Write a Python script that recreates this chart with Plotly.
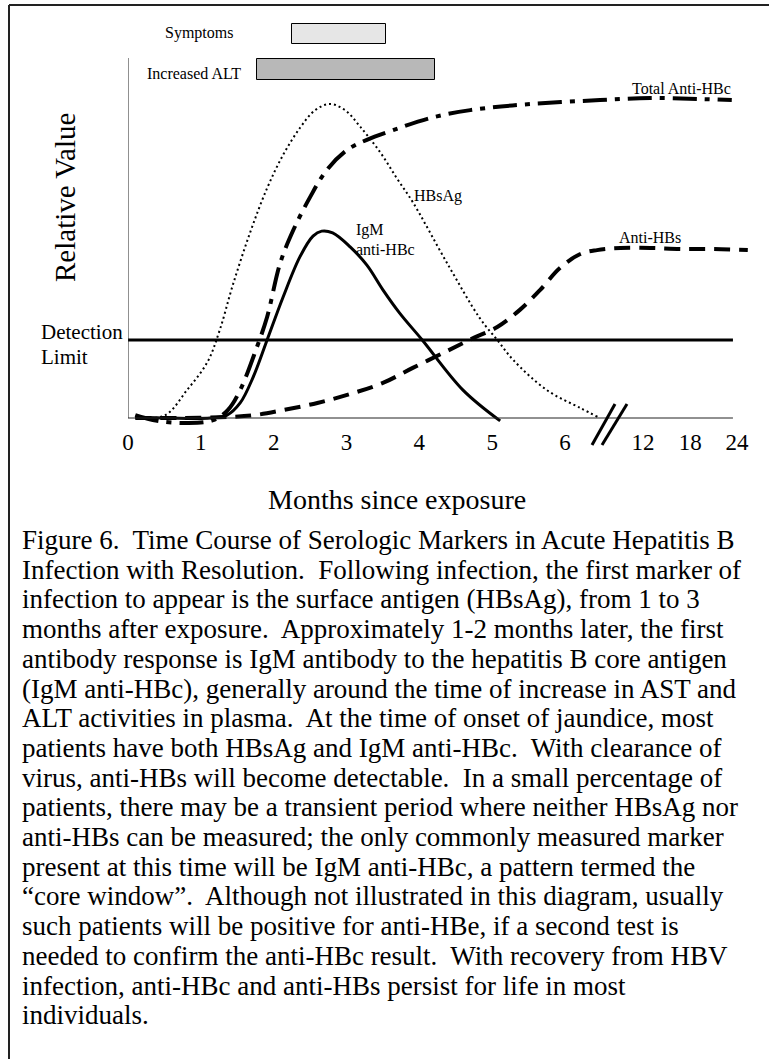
import plotly.graph_objects as go

# ---------------- data (x in display-months, y in relative value units) -------------
hbsag_x = [0.10, 0.51, 0.81, 1.09, 1.26, 1.44, 1.68, 1.91, 2.13, 2.36, 2.57, 2.77, 2.98,
           3.19, 3.46, 3.69, 3.91, 4.38, 4.83, 5.07, 5.29, 5.75, 6.21, 6.45]
hbsag_y = [0.0, 0.8, 7.8, 15.6, 24.6, 37.2, 52.0, 64.2, 73.5, 81.0, 86.0, 87.7, 86.0,
           81.3, 74.3, 67.0, 60.3, 43.3, 27.9, 21.8, 16.2, 7.8, 2.8, 0.3]

igm_x = [0.10, 0.58, 1.13, 1.36, 1.54, 1.72, 1.91, 2.13, 2.36, 2.54, 2.66, 2.81, 3.05,
         3.28, 3.50, 3.73, 4.04, 4.60, 5.11]
igm_y = [0.3, 0.0, 0.0, 0.8, 4.2, 11.5, 21.8, 33.8, 45.0, 50.8, 52.2, 51.7, 47.8,
         42.7, 35.8, 29.3, 21.8, 7.8, -0.8]

total_x = [0.10, 0.40, 0.81, 1.17, 1.37, 1.54, 1.77, 1.91, 2.09, 2.27, 2.50, 2.73, 3.01,
           3.28, 3.64, 4.15, 4.70, 5.52, 6.48, 7.17, 7.85, 8.29]
total_y = [0.8, -0.8, -1.4, -0.6, 2.2, 7.8, 19.8, 28.2, 43.3, 52.5, 61.7, 69.3, 74.9,
           77.7, 80.4, 83.8, 86.0, 87.7, 88.8, 89.4, 89.1, 88.8]

antihbs_x = [0.10, 0.71, 1.40, 1.74, 2.13, 2.60, 3.05, 3.50, 3.91, 4.38, 4.74, 5.07, 5.38,
             5.66, 5.93, 6.21, 6.44, 6.76, 7.17, 7.58, 8.03, 8.51]
antihbs_y = [0.0, 0.0, 0.3, 0.8, 2.2, 4.2, 6.7, 9.8, 14.0, 18.7, 22.3, 25.4, 30.2,
             35.8, 41.9, 45.8, 46.9, 47.5, 47.5, 47.2, 47.2, 46.9]

detection_limit = 21.8
axis_end = 8.306
value_top = 100.56

period_names = ["Symptoms", "Increased ALT"]
period_start = [2.25, 1.77]
period_end = [3.54, 4.21]

tick_vals = [0, 1, 2, 3, 4, 5, 6, 7.07, 7.72, 8.36]
tick_text = ["0", "1", "2", "3", "4", "5", "6", "12", "18", "24"]

caption_lines = [
    "Figure 6.  Time Course of Serologic Markers in Acute Hepatitis B",
    "Infection with Resolution.  Following infection, the first marker of",
    "infection to appear is the surface antigen (HBsAg), from 1 to 3",
    "months after exposure.  Approximately 1-2 months later, the first",
    "antibody response is IgM antibody to the hepatitis B core antigen",
    "(IgM anti-HBc), generally around the time of increase in AST and",
    "ALT activities in plasma.  At the time of onset of jaundice, most",
    "patients have both HBsAg and IgM anti-HBc.  With clearance of",
    "virus, anti-HBs will become detectable.  In a small percentage of",
    "patients, there may be a transient period where neither HBsAg nor",
    "anti-HBs can be measured; the only commonly measured marker",
    "present at this time will be IgM anti-HBc, a pattern termed the",
    "\u201ccore window\u201d.  Although not illustrated in this diagram, usually",
    "such patients will be positive for anti-HBe, if a second test is",
    "needed to confirm the anti-HBc result.  With recovery from HBV",
    "infection, anti-HBc and anti-HBs persist for life in most",
    "individuals.",
]

# ---------------- layout geometry (pixels) ----------------
W, H = 769, 1059
PL, PR, PT, PB = 128, 758, 20, 426
FONT = "Liberation Serif"


def px(x):
    return (x - PL) / (PR - PL)


def py(y):
    return (PB - y) / (PB - PT)


fig = go.Figure()

# period bars (symptoms / ALT)
fig.add_trace(go.Bar(
    orientation="h",
    y=[107.3, 97.35],
    x=[e - s for s, e in zip(period_start, period_end)],
    base=period_start,
    width=[5.6, 5.9],
    marker=dict(color=["#e6e6e6", "#b8b8b8"], line=dict(color="black", width=1)),
    showlegend=False, hoverinfo="skip",
))

# detection limit
fig.add_trace(go.Scatter(x=[0, axis_end], y=[detection_limit, detection_limit], mode="lines",
                         line=dict(color="black", width=3), showlegend=False))

fig.add_trace(go.Scatter(x=hbsag_x, y=hbsag_y, mode="lines", line_shape="spline",
                         line=dict(color="black", width=2, dash="2px,3px"), showlegend=False))
fig.add_trace(go.Scatter(x=antihbs_x, y=antihbs_y, mode="lines", line_shape="spline",
                         line=dict(color="black", width=4, dash="16px,9px"), showlegend=False))
fig.add_trace(go.Scatter(x=total_x, y=total_y, mode="lines", line_shape="spline",
                         line=dict(color="black", width=4, dash="24px,8px,5px,8px"), showlegend=False))
fig.add_trace(go.Scatter(x=igm_x, y=igm_y, mode="lines", line_shape="spline",
                         line=dict(color="black", width=3), showlegend=False))

shapes = [
    # axes
    dict(type="line", x0=0, x1=0, y0=0, y1=value_top, xref="x", yref="y",
         line=dict(color="#222", width=1)),
    dict(type="line", x0=0, x1=axis_end, y0=0, y1=0, xref="x", yref="y",
         line=dict(color="#222", width=1)),
    # outer frame
    dict(type="line", x0=px(9), x1=px(9), y0=py(5), y1=py(1070), xref="paper", yref="paper",
         line=dict(color="#222", width=2)),
    dict(type="line", x0=px(9), x1=px(780), y0=py(5), y1=py(5), xref="paper", yref="paper",
         line=dict(color="#222", width=2)),
    # axis break marks
    dict(type="line", x0=px(592), x1=px(615), y0=py(445), y1=py(404), xref="paper", yref="paper",
         line=dict(color="black", width=3)),
    dict(type="line", x0=px(602), x1=px(627), y0=py(445), y1=py(404), xref="paper", yref="paper",
         line=dict(color="black", width=3)),
]

ann = []


def text(t, x, y, size, xanchor="left", angle=0):
    ann.append(dict(text=t, x=px(x), y=py(y), xref="paper", yref="paper", showarrow=False,
                    xanchor=xanchor, yanchor="middle", textangle=angle,
                    font=dict(family=FONT, size=size, color="black")))


text(period_names[0], 163, 33, 16)
text(period_names[1], 145, 73, 16)
text("Total Anti-HBc", 630, 88, 16)
text("HBsAg", 412, 196, 16)
text("IgM", 354, 230, 16)
text("anti-HBc", 354, 249, 16)
text("Anti-HBs", 617, 237, 16)
text("Relative Value", 65, 198, 29, xanchor="center", angle=-90)
text("Detection", 39, 332, 21)
text("Limit", 39, 357, 21)
text("Months since exposure", 397, 500, 28, xanchor="center")
for i, line in enumerate(caption_lines):
    text(line, 20, 540 + i * 29.7, 27)

fig.update_layout(
    width=W, height=H,
    margin=dict(l=PL, r=W - PR, t=PT, b=H - PB, pad=0),
    paper_bgcolor="white", plot_bgcolor="rgba(0,0,0,0)",
    xaxis=dict(range=[0, 8.65], showgrid=False, zeroline=False, showline=False,
               tickvals=tick_vals, ticktext=tick_text, ticks="",
               tickfont=dict(family=FONT, size=23, color="black")),
    yaxis=dict(range=[(418 - PB) / 3.58, (418 - PT) / 3.58], visible=False),
    shapes=shapes, annotations=ann, bargap=0,
)

fig.write_html("out.html", config={"displayModeBar": False},
               post_script="document.body.style.margin='0';")
